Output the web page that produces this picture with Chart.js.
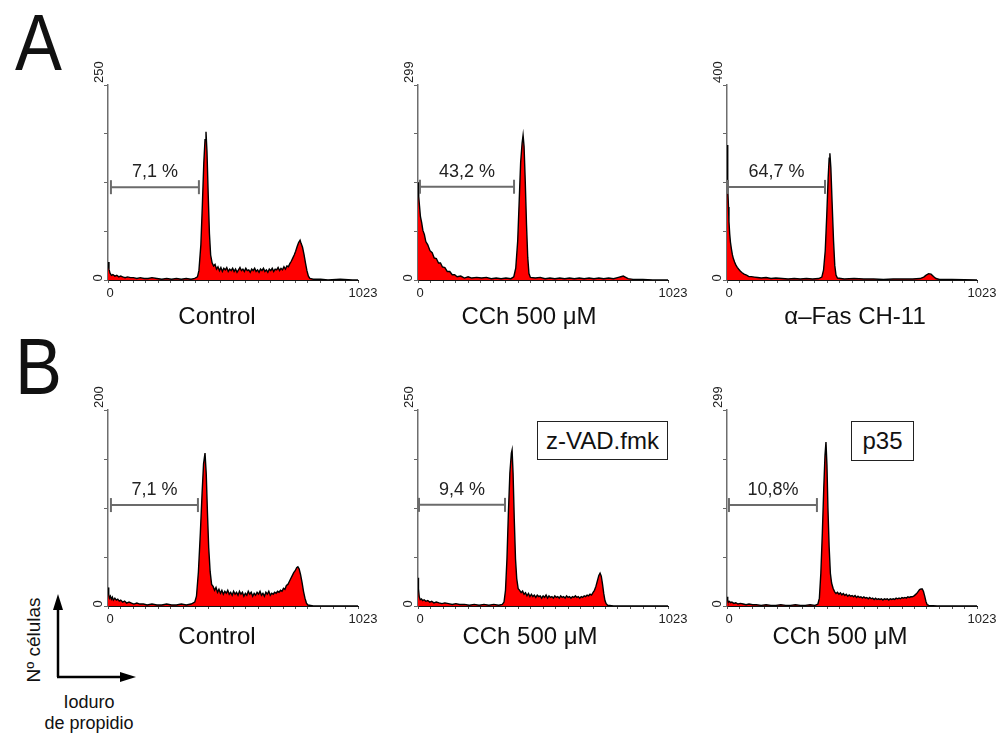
<!DOCTYPE html>
<html>
<head>
<meta charset="utf-8">
<script src="https://cdn.jsdelivr.net/npm/chart.js@4.4.1/dist/chart.umd.min.js"></script>
<style>
  body { margin: 0; background: #fff; }
  #page { position: relative; width: 997px; height: 733px; overflow: hidden;
          font-family: "Liberation Sans", Arial, sans-serif; color: #111; }
  canvas.panel { position: absolute; }
  .txt { position: absolute; white-space: nowrap; line-height: 1; }
  .title { font-size: 24px; transform: translateX(-50%); }
  .letter { font-size: 80px; transform: scaleX(0.88); transform-origin: left top; }
  .box { position: absolute; border: 1px solid #222; font-size: 24px; line-height: 1;
         display: flex; align-items: center; justify-content: center; box-sizing: border-box; }
  .small { font-size: 18px; transform: translate(-50%, -50%); }
</style>
</head>
<body>
<div id="page">
  <div class="txt letter" style="left:15px; top:3px;">A</div>
  <div class="txt letter" style="left:15px; top:327px;">B</div>

  <div class="box" style="left:537px; top:421px; width:131px; height:39px;">z-VAD.fmk</div>
  <div class="box" style="left:851px; top:421px; width:63px; height:40px;">p35</div>

  <svg style="position:absolute; left:0; top:580px;" width="160" height="110">
    <line x1="58" y1="97" x2="58" y2="28" stroke="#000" stroke-width="2.5"/>
    <line x1="57" y1="97" x2="122" y2="97" stroke="#000" stroke-width="2.5"/>
    <polygon points="58,14 53,30 63,30" fill="#000"/>
    <polygon points="136,97 120,92 120,102" fill="#000"/>
  </svg>
  <div class="txt" style="left:33px; top:640px; font-size:19px; transform: translate(-50%, -50%) rotate(-90deg);">Nº células</div>
  <div class="txt small" style="left:89px; top:702px;">Ioduro</div>
  <div class="txt small" style="left:89px; top:723px;">de propidio</div>
</div>

<script>
// ---- datos (canal 0-1023 / nº de células) ----
const a1Ch = [0, 4, 8, 14, 20, 28, 36, 44, 52, 60,
  70, 80, 92, 104, 118, 132, 148, 164, 180, 200,
  220, 240, 260, 280, 300, 320, 340, 355, 366, 372,
  380, 386, 392, 397, 401, 405, 410, 415, 420, 426,
  432, 438, 444, 450, 456, 462, 468, 474, 480, 486,
  492, 498, 504, 510, 516, 522, 528, 534, 540, 546,
  552, 558, 564, 570, 576, 582, 588, 594, 600, 606,
  612, 618, 624, 630, 636, 642, 648, 654, 660, 666,
  672, 678, 684, 690, 696, 702, 708, 714, 720, 726,
  732, 738, 744, 750, 756, 762, 768, 774, 780, 786,
  790, 796, 802, 808, 814, 820, 826, 840, 870, 900,
  950, 1000, 1023];
const a1N = [23, 14, 9, 6, 7, 5, 6, 4, 5, 4,
  3, 4, 3, 3, 2, 3, 2, 2, 3, 2,
  1, 2, 1, 2, 1, 2, 1, 2, 4, 12,
  45, 95, 150, 180, 190, 165, 110, 60, 32, 22,
  18, 20, 14, 17, 12, 16, 11, 15, 13, 16,
  11, 14, 12, 15, 11, 14, 10, 13, 16, 12,
  14, 11, 15, 12, 13, 10, 14, 12, 15, 11,
  13, 10, 14, 12, 15, 11, 13, 10, 14, 12,
  15, 11, 14, 13, 16, 12, 15, 13, 17, 14,
  18, 17, 21, 24, 28, 32, 37, 43, 48, 51,
  47, 42, 33, 22, 12, 5, 2, 1, 1, 0,
  1, 0, 0];

const a2Ch = [0, 3, 6, 10, 15, 20, 26, 32, 40, 49,
  58, 66, 75, 84, 92, 100, 110, 120, 130, 140,
  150, 160, 175, 190, 205, 220, 240, 260, 280, 300,
  320, 340, 360, 380, 392, 400, 408, 414, 420, 426,
  430, 434, 439, 444, 449, 454, 460, 480, 500, 520,
  540, 560, 580, 600, 620, 640, 660, 680, 700, 720,
  740, 760, 780, 800, 820, 830, 840, 850, 860, 880,
  920, 960, 1023];
const a2N = [150, 128, 114, 97, 88, 76, 70, 59, 54, 45,
  42, 34, 33, 26, 26, 20, 19, 13, 13, 8,
  8, 5, 6, 3, 5, 3, 4, 3, 4, 2,
  3, 2, 3, 2, 5, 18, 60, 120, 180, 210,
  222, 205, 150, 85, 35, 10, 4, 3, 4, 2,
  3, 2, 3, 2, 3, 2, 3, 2, 3, 2,
  3, 2, 3, 2, 4, 5, 6, 4, 2, 1,
  1, 0, 0];

const a3Ch = [0, 2, 4, 6, 8, 11, 14, 18, 22, 26,
  31, 36, 42, 48, 55, 62, 70, 80, 90, 100,
  112, 125, 140, 160, 180, 200, 225, 250, 275, 300,
  325, 350, 375, 388, 395, 402, 408, 414, 418, 421,
  425, 430, 436, 441, 446, 452, 480, 520, 560, 600,
  640, 680, 720, 760, 790, 805, 815, 825, 835, 845,
  855, 870, 920, 1023];
const a3N = [277, 240, 190, 150, 120, 95, 78, 64, 52, 44,
  37, 31, 26, 22, 18, 15, 12, 10, 7, 7,
  6, 5, 4, 5, 3, 4, 3, 2, 3, 2,
  3, 2, 3, 6, 20, 60, 130, 210, 250, 260,
  230, 160, 80, 30, 10, 4, 2, 3, 2, 2,
  1, 2, 2, 2, 3, 6, 10, 13, 12, 7,
  3, 1, 1, 0];

const b1Ch = [0, 3, 6, 10, 14, 18, 22, 28, 34, 40,
  46, 52, 60, 68, 76, 86, 96, 106, 118, 130,
  145, 160, 180, 200, 220, 240, 260, 280, 300, 320,
  340, 355, 362, 370, 378, 385, 391, 397, 402, 407,
  412, 418, 424, 430, 436, 442, 448, 454, 460, 466,
  472, 478, 484, 490, 496, 502, 508, 514, 520, 526,
  532, 538, 544, 550, 556, 562, 568, 574, 580, 586,
  592, 598, 604, 610, 616, 622, 628, 634, 640, 646,
  652, 658, 664, 670, 676, 682, 688, 694, 700, 706,
  712, 718, 724, 730, 736, 742, 748, 754, 760, 766,
  772, 777, 782, 788, 794, 800, 806, 812, 818, 840,
  900, 1023];
const b1N = [19, 12, 8, 10, 7, 9, 6, 8, 6, 7,
  5, 6, 4, 5, 3, 4, 3, 2, 3, 2,
  2, 1, 2, 1, 1, 2, 1, 1, 2, 1,
  2, 4, 10, 35, 75, 115, 145, 156, 135, 95,
  60, 35, 22, 20, 16, 19, 14, 17, 13, 16,
  12, 15, 13, 16, 12, 14, 11, 15, 12, 14,
  11, 15, 12, 14, 10, 13, 11, 15, 12, 14,
  10, 13, 11, 14, 12, 15, 11, 13, 10, 14,
  12, 15, 11, 13, 12, 14, 13, 15, 14, 16,
  15, 18, 17, 21, 22, 25, 28, 31, 34, 36,
  39, 40, 38, 32, 24, 15, 8, 3, 1, 0,
  0, 0];

const b2Ch = [0, 2, 5, 9, 14, 19, 25, 32, 40, 48,
  56, 65, 75, 86, 98, 110, 125, 140, 155, 170,
  190, 210, 230, 250, 270, 290, 310, 330, 345, 352,
  358, 364, 370, 376, 382, 385, 389, 394, 399, 404,
  410, 416, 422, 428, 434, 440, 446, 452, 458, 464,
  470, 476, 482, 488, 494, 500, 506, 512, 518, 524,
  530, 536, 542, 548, 554, 560, 566, 572, 578, 584,
  590, 596, 602, 608, 614, 620, 626, 632, 638, 644,
  650, 656, 662, 668, 674, 680, 686, 692, 698, 704,
  710, 716, 722, 728, 734, 740, 745, 750, 755, 760,
  765, 770, 776, 800, 1023];
const b2N = [36, 22, 12, 8, 9, 7, 8, 6, 7, 5,
  6, 4, 5, 4, 3, 4, 3, 2, 3, 2,
  2, 1, 2, 1, 2, 1, 2, 1, 2, 5,
  20, 60, 120, 170, 195, 199, 170, 110, 60, 35,
  22, 20, 17, 19, 15, 17, 13, 16, 12, 15,
  12, 14, 11, 14, 12, 13, 10, 13, 11, 14,
  10, 13, 11, 12, 10, 13, 11, 12, 10, 13,
  11, 12, 10, 13, 11, 12, 10, 12, 11, 13,
  11, 12, 10, 12, 11, 13, 12, 14, 13, 15,
  14, 17, 20, 25, 32, 39, 42, 38, 28, 16,
  7, 3, 1, 0, 0];

const b3Ch = [0, 3, 6, 10, 15, 20, 28, 36, 45, 55,
  66, 78, 90, 105, 120, 140, 160, 180, 200, 220,
  240, 260, 280, 300, 320, 340, 360, 372, 378, 384,
  390, 396, 401, 405, 409, 413, 418, 423, 428, 434,
  440, 446, 452, 458, 464, 470, 476, 482, 488, 494,
  500, 506, 512, 518, 524, 530, 536, 542, 548, 554,
  560, 566, 572, 578, 584, 590, 596, 602, 608, 614,
  620, 626, 632, 638, 644, 650, 656, 662, 668, 674,
  680, 686, 692, 698, 704, 710, 716, 722, 728, 734,
  740, 746, 752, 758, 764, 770, 776, 782, 788, 794,
  799, 804, 809, 814, 819, 826, 860, 1023];
const b3N = [14, 9, 6, 7, 5, 6, 4, 5, 3, 4,
  3, 2, 3, 2, 2, 1, 2, 1, 1, 2,
  1, 1, 2, 1, 1, 2, 1, 3, 12, 50,
  110, 180, 230, 250, 215, 150, 90, 50, 35, 27,
  22, 19, 21, 18, 20, 17, 19, 16, 18, 15,
  17, 15, 16, 14, 16, 13, 15, 13, 14, 12,
  14, 12, 13, 11, 13, 11, 12, 10, 12, 10,
  11, 10, 11, 9, 11, 10, 11, 9, 11, 10,
  11, 10, 12, 11, 12, 11, 13, 12, 13, 12,
  14, 13, 14, 14, 15, 17, 19, 22, 25, 26,
  26, 22, 15, 7, 2, 1, 0, 0];

// escalas y marcadores de porcentaje (sub-G1)
const xMax = 1023;
const yMaxes = [250, 299, 400, 200, 250, 299];
const titles = ['Control', 'CCh 500 μM', 'α–Fas CH-11', 'Control', 'CCh 500 μM', 'CCh 500 μM'];
const pctLabels = ['7,1 %', '43,2 %', '64,7 %', '7,1 %', '9,4 %', '10,8%'];
const pctFrom = [12, 8, 4, 12, 4, 8];
const pctTo = [372, 393, 401, 368, 356, 368];
const pctLevel = [119, 143, 191, 103, 129, 154];

const channels = [a1Ch, a2Ch, a3Ch, b1Ch, b2Ch, b3Ch];
const counts = [a1N, a2N, a3N, b1N, b2N, b3N];

// posición de cada panel en la página
const layout = [
  { left: 108, top: 85, h: 195, titleX: 217, titleY: 304 },
  { left: 418, top: 85, h: 195, titleX: 529, titleY: 304 },
  { left: 727, top: 85, h: 195, titleX: 855, titleY: 304 },
  { left: 108, top: 410, h: 196, titleX: 217, titleY: 624 },
  { left: 418, top: 410, h: 196, titleX: 530, titleY: 624 },
  { left: 727, top: 410, h: 196, titleX: 840, titleY: 624 }
];
const plotW = 250, padL = 40, padT = 40, padR = 30, padB = 30;
const FONT = '"Liberation Sans", Arial, sans-serif';

// textos de ejes y porcentajes
const panelText = {
  id: 'panelText',
  afterDraw(chart, args, opts) {
    const ctx = chart.ctx;
    const xs = chart.scales.x, ys = chart.scales.y;
    ctx.save();
    ctx.fillStyle = '#222';

    // etiquetas del eje y, giradas
    ctx.font = '13px ' + FONT;
    ctx.textBaseline = 'middle';
    ctx.save();
    ctx.translate(xs.left - 9, ys.getPixelForValue(ys.max) - 2);
    ctx.rotate(-Math.PI / 2);
    ctx.textAlign = 'left';
    ctx.fillText(String(ys.max), 0, 0);
    ctx.restore();
    ctx.save();
    ctx.translate(xs.left - 10, ys.getPixelForValue(0) - 2);
    ctx.rotate(-Math.PI / 2);
    ctx.textAlign = 'center';
    ctx.fillText('0', 0, 0);
    ctx.restore();

    // etiquetas del eje x
    ctx.textAlign = 'center';
    ctx.fillText('0', xs.getPixelForValue(0) + 2, ys.bottom + 13);
    ctx.fillText(String(xMax), xs.getPixelForValue(xMax) + 5, ys.bottom + 13);

    // porcentaje
    ctx.font = '18px ' + FONT;
    ctx.textBaseline = 'alphabetic';
    const mid = xs.getPixelForValue((opts.from + opts.to) / 2);
    ctx.fillText(opts.label, mid, ys.getPixelForValue(opts.level) - 10);
    ctx.restore();
  }
};

const page = document.getElementById('page');

layout.forEach((p, i) => {
  const cv = document.createElement('canvas');
  cv.className = 'panel';
  cv.width = plotW + padL + padR;
  cv.height = p.h + padT + padB;
  cv.style.left = (p.left - padL) + 'px';
  cv.style.top = (p.top - padT) + 'px';
  page.appendChild(cv);

  const t = document.createElement('div');
  t.className = 'txt title';
  t.style.left = p.titleX + 'px';
  t.style.top = p.titleY + 'px';
  t.textContent = titles[i];
  page.appendChild(t);

  const yMax = yMaxes[i];
  const hist = channels[i].map((c, k) => ({ x: c, y: counts[i][k] }));

  new Chart(cv.getContext('2d'), {
    type: 'line',
    data: {
      datasets: [
        {
          // barra del porcentaje
          data: [{ x: pctFrom[i], y: pctLevel[i] }, { x: pctTo[i], y: pctLevel[i] }],
          borderColor: '#6b6b6b',
          borderWidth: 2,
          pointStyle: 'line',
          pointRotation: 90,
          pointRadius: 7,
          pointBorderColor: '#6b6b6b',
          pointBorderWidth: 2,
          fill: false,
          clip: false
        },
        {
          data: hist,
          borderColor: '#000',
          borderWidth: 1.4,
          backgroundColor: '#ff0000',
          fill: 'origin',
          pointRadius: 0,
          tension: 0
        }
      ]
    },
    options: {
      responsive: false,
      animation: false,
      events: [],
      layout: { padding: { left: 0, top: padT, right: padR, bottom: 0 } },
      plugins: {
        legend: { display: false },
        tooltip: { enabled: false },
        panelText: { label: pctLabels[i], from: pctFrom[i], to: pctTo[i], level: pctLevel[i] }
      },
      scales: {
        x: {
          type: 'linear',
          min: 0,
          max: xMax,
          afterBuildTicks: s => {
            const tk = [];
            for (let k = 0; k <= 20; k++) tk.push({ value: k * xMax / 20 });
            s.ticks = tk;
          },
          afterFit: s => { s.height = padB; },
          ticks: { display: false },
          grid: { drawOnChartArea: false, drawTicks: true, tickLength: 3, color: '#555' },
          border: { display: true, color: '#111', width: 1 }
        },
        y: {
          type: 'linear',
          min: 0,
          max: yMax,
          afterBuildTicks: s => {
            s.ticks = [0, 1, 2, 3, 4].map(k => ({ value: k * yMax / 4 }));
          },
          afterFit: s => { s.width = padL; },
          ticks: { display: false },
          grid: { drawOnChartArea: false, drawTicks: true, tickLength: 4, color: '#666' },
          border: { display: true, color: '#6e6e6e', width: 1.5 }
        }
      }
    },
    plugins: [panelText]
  });
});
</script>
</body>
</html>
